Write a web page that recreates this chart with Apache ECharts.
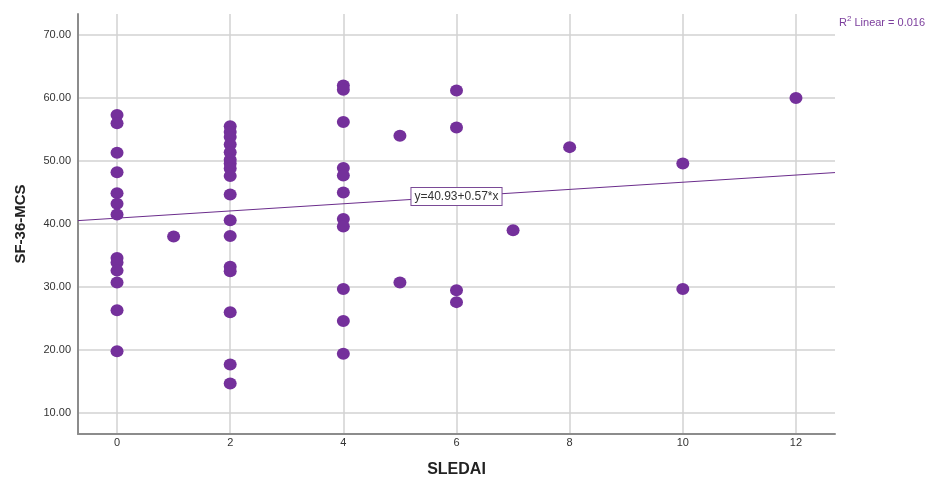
<!DOCTYPE html>
<html><head><meta charset="utf-8">
<script src="https://cdn.jsdelivr.net/npm/echarts@6/dist/echarts.min.js"></script>
<style>html,body{margin:0;padding:0;background:#fff}#c{width:930px;height:482px}</style>
</head><body><div id="c"></div>
<script>
// SLEDAI (x) and SF-36-MCS (y) observations
const xValues = [
  0,0,0,0,0,0,0,0,0,0,0,0,0,
  1,
  2,2,2,2,2,2,2,2,2,2,2,2,2,2,2,2,2,
  4,4,4,4,4,4,4,4,4,4,4,
  5,5,
  6,6,6,6,
  7,
  8,
  10,10,
  12
];
const yValues = [
  57.3,56.0,51.3,48.2,44.9,43.2,41.5,34.6,33.9,32.6,30.7,26.3,19.8,
  38.0,
  55.5,54.6,53.8,52.6,51.4,50.2,49.6,48.8,47.6,44.7,40.6,38.1,33.2,32.5,26.0,17.7,14.7,
  62.0,61.3,56.2,48.9,47.7,45.0,40.8,39.6,29.7,24.6,19.4,
  54.0,30.7,
  61.2,55.3,29.5,27.6,
  39.0,
  52.2,
  49.6,29.7,
  60.0
];
const xTicks = [0,2,4,6,8,10,12];
const yTicks = [10,20,30,40,50,60,70];
const fitIntercept = 40.93;
const fitSlope = 0.57;
const fitLabelX = 6;
const rSquared = '0.016';

const xMin = -0.69, xMax = 12.69;
const yMin = 6.67, yMax = 73.33;

const points = xValues.map((x, i) => [x, yValues[i]]);
const fitY = x => fitIntercept + fitSlope * x;
const fitData = [[xMin, fitY(xMin)], [xMax, fitY(xMax)]];

const chart = echarts.init(document.getElementById('c'));
chart.setOption({
  animation: false,
  backgroundColor: '#fff',
  title: {
    text: '{a|R}{s|2}{a| Linear = ' + rSquared + '}',
    left: 834, top: 10,
    textStyle: {
      fontWeight: 'normal',
      rich: {
        a: {fontFamily: 'Liberation Sans, Arial', fontSize: 11, fontWeight: 'normal', color: '#7b3d9c', verticalAlign: 'bottom'},
        s: {fontFamily: 'Liberation Sans, Arial', fontSize: 8, fontWeight: 'normal', color: '#7b3d9c', verticalAlign: 'top', padding: [0,0,5,0]}
      }
    }
  },
  grid: {left: 78, top: 14, right: 95, bottom: 48, outerBoundsMode: 'none', containLabel: false},
  xAxis: {
    type: 'value', min: xMin, max: xMax,
    name: 'SLEDAI', nameLocation: 'middle', nameGap: 28,
    nameTextStyle: {fontFamily: 'Liberation Sans, Arial', fontSize: 16, fontWeight: 'bold', color: '#222'},
    axisLine: {show: true, onZero: false, lineStyle: {color: '#8c8c8c', width: 2}},
    axisTick: {show: false, customValues: xTicks},
    axisLabel: {customValues: xTicks, fontFamily: 'Liberation Sans, Arial', fontSize: 11, color: '#333', margin: 3},
    splitLine: {show: true, lineStyle: {color: '#d2d2d2', width: 1.5}}
  },
  yAxis: {
    type: 'value', min: yMin, max: yMax,
    name: 'SF-36-MCS', nameLocation: 'middle', nameGap: 50,
    nameTextStyle: {fontFamily: 'Liberation Sans, Arial', fontSize: 15, fontWeight: 'bold', color: '#222'},
    axisLine: {show: true, onZero: false, lineStyle: {color: '#8c8c8c', width: 2}},
    axisTick: {show: false, customValues: yTicks},
    axisLabel: {customValues: yTicks, formatter: v => v.toFixed(2), fontFamily: 'Liberation Sans, Arial', fontSize: 11, color: '#333', margin: 7},
    splitLine: {show: true, lineStyle: {color: '#d2d2d2', width: 1.5}}
  },
  series: [
    {
      type: 'line', data: fitData, showSymbol: false, symbol: 'none', z: 3,
      lineStyle: {color: '#6b2d8c', width: 1},
      markPoint: {
        symbol: 'rect', symbolSize: 0, silent: true,
        data: [{coord: [fitLabelX, fitY(fitLabelX)]}],
        label: {
          show: true, position: 'inside',
          formatter: 'y=' + fitIntercept + '+' + fitSlope + '*x',
          backgroundColor: '#fff', borderColor: '#7a4a96', borderWidth: 1,
          padding: [3, 3, 2, 3], fontFamily: 'Liberation Sans, Arial', fontSize: 12, color: '#333'
        }
      }
    },
    {
      type: 'scatter', data: points, symbol: 'circle', symbolSize: [13, 12], z: 4,
      itemStyle: {color: '#74309b', opacity: 1}
    }
  ]
});
</script></body></html>
